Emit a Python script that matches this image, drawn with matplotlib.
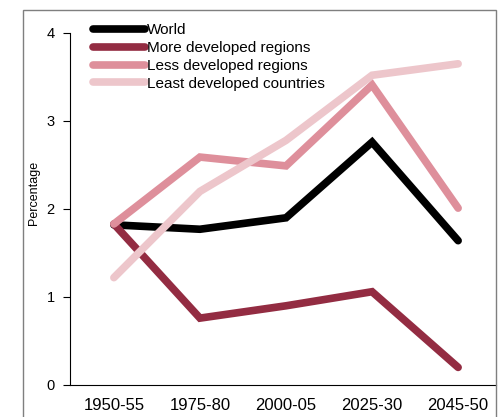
#!/usr/bin/env python3
# -*- coding: utf-8 -*-

import matplotlib
matplotlib.use("Agg")
import matplotlib.pyplot as plt
from matplotlib.patches import Rectangle

# periods on the x axis
periods = ["1950-55", "1975-80", "2000-05", "2025-30", "2045-50"]

# annual growth rate, percentage
world = [1.82, 1.77, 1.90, 2.76, 1.64]
more_developed = [1.83, 0.76, 0.90, 1.06, 0.20]
less_developed = [1.83, 2.59, 2.49, 3.41, 2.01]
least_developed = [1.22, 2.20, 2.78, 3.52, 3.65]

series = [
    ("World", world, "#000000"),
    ("More developed regions", more_developed, "#932c42"),
    ("Less developed regions", less_developed, "#de8f9b"),
    ("Least developed countries", least_developed, "#edc6cb"),
]

plt.rcParams["font.family"] = ["Liberation Sans", "DejaVu Sans"]

W, H = 503, 417
fig = plt.figure(figsize=(W / 100, H / 100), dpi=100)

# gray frame around the chart
fig.patches.append(Rectangle((23 / W, -0.1), (496 - 23) / W, 1.1 - 10 / H,
                             transform=fig.transFigure, fill=False,
                             edgecolor="#7f7f7f", linewidth=1))

ax = fig.add_axes([70 / W, (H - 385) / H, (496 - 70) / W, (385 - 33) / H])

x = list(range(len(periods)))
for name, vals, col in series:
    ax.plot(x, vals, color=col, linewidth=5.5, solid_capstyle="round",
            solid_joinstyle="miter", label=name)

ax.set_xlim(-0.51, 4.44)
ax.set_ylim(0, 4)
ax.set_yticks([0, 1, 2, 3, 4])
ax.set_xticks(x)
ax.set_xticklabels(periods)
ax.tick_params(axis="x", length=0, labelsize=12, pad=9)
ax.tick_params(axis="y", length=5, labelsize=10.5, pad=6)

for s in ["top", "right"]:
    ax.spines[s].set_visible(False)

ax.set_ylabel("Percentage", fontsize=9)
ax.yaxis.set_label_coords(-0.07, 0.545)

ax.legend(loc="upper left", bbox_to_anchor=(0.04, 1.045), frameon=False,
          fontsize=11, handlelength=3.4, handletextpad=0.1,
          labelspacing=0.25, borderaxespad=0)

fig.savefig("out.png", dpi=100)
